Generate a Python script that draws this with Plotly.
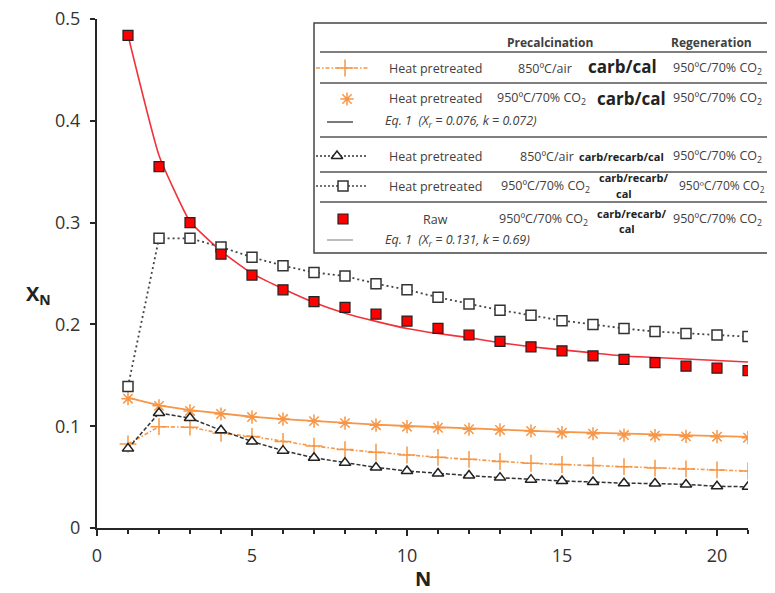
import plotly.graph_objects as go

# ---------------- data ----------------
N = list(range(1, 22))
x_ticks = [0, 5, 10, 15, 20]
y_ticks = [0, 0.1, 0.2, 0.3, 0.4, 0.5]
y_tick_text = ["0", "0.1", "0.2", "0.3", "0.4", "0.5"]

plus_850_air = [0.0825, 0.0995, 0.099, 0.093, 0.090, 0.085, 0.0805, 0.077, 0.0744, 0.0717,
                0.0694, 0.0675, 0.0653, 0.0636, 0.0624, 0.0614, 0.0602, 0.0589, 0.058, 0.057, 0.056]
star_950_co2 = [0.127, 0.120, 0.115, 0.112, 0.109, 0.107, 0.105, 0.103, 0.101, 0.0995,
                0.0985, 0.097, 0.0963, 0.0953, 0.0936, 0.0926, 0.0913, 0.0907, 0.090, 0.0897, 0.0887]
star_fit = [0.128, 0.1205, 0.1158, 0.1122, 0.1093, 0.107, 0.105, 0.1032, 0.1016, 0.1002,
            0.0989, 0.0977, 0.0966, 0.0955, 0.0945, 0.0936, 0.0927, 0.0918, 0.091, 0.0902, 0.0895]
tri_850_air = [0.078, 0.113, 0.108, 0.096, 0.085, 0.076, 0.069, 0.064, 0.0595, 0.056,
               0.0535, 0.0515, 0.0495, 0.0475, 0.0462, 0.0452, 0.044, 0.0437, 0.0428, 0.041, 0.0405]
sq_950_co2 = [0.139, 0.2846, 0.2846, 0.276, 0.266, 0.2577, 0.251, 0.2475, 0.240, 0.234,
              0.2266, 0.220, 0.214, 0.209, 0.2037, 0.200, 0.196, 0.193, 0.191, 0.1896, 0.188]
raw_950_co2 = [0.484, 0.355, 0.300, 0.269, 0.2485, 0.234, 0.2223, 0.2168, 0.210, 0.2033,
               0.196, 0.1896, 0.1834, 0.178, 0.174, 0.169, 0.1657, 0.1624, 0.159, 0.157, 0.1545]
raw_fit = [0.484, 0.366, 0.301, 0.272, 0.250, 0.235, 0.2215, 0.211, 0.203, 0.196,
           0.191, 0.187, 0.182, 0.178, 0.175, 0.172, 0.169, 0.1675, 0.166, 0.1645, 0.163]

ORANGE = "#F79646"
RED = "#FF0000"
FITRED = "#F0333A"
TXT = "#404040"
FONT = "Open Sans"

# screen geometry (page has an 8px body margin)
OFF = 8
W, H = 775, 593
L, R, T, B = 97, 27, 19, 65
PW, PH = W - L - R, H - T - B


def px(xp):
    return (xp - L) / PW


def py(yp):
    return (H - B - yp) / PH


fig = go.Figure()

# ---------------- data traces ----------------
fig.add_trace(go.Scatter(x=N, y=raw_fit, mode="lines",
                         line=dict(color=FITRED, width=1.6, shape="spline", smoothing=0.4),
                         showlegend=False))
fig.add_trace(go.Scatter(x=N, y=star_fit, mode="lines", line=dict(color=ORANGE, width=1.8),
                         showlegend=False))
fig.add_trace(go.Scatter(x=N, y=star_950_co2, mode="markers",
                         marker=dict(symbol="asterisk", size=11, line=dict(color=ORANGE, width=1.5)),
                         showlegend=False))
fig.add_trace(go.Scatter(x=N, y=plus_850_air, mode="lines+markers",
                         line=dict(color=ORANGE, width=1.6, dash="4px,2px,1.5px,2px"),
                         marker=dict(symbol="cross-thin", size=12, line=dict(color=ORANGE, width=1.5)),
                         showlegend=False))
fig.add_trace(go.Scatter(x=N, y=tri_850_air, mode="lines+markers",
                         line=dict(color="#333333", width=1.5, dash="4px,2px"),
                         marker=dict(symbol="triangle-up", size=10, color="white",
                                     line=dict(color="#222222", width=1.5)),
                         showlegend=False))
fig.add_trace(go.Scatter(x=N, y=sq_950_co2, mode="lines+markers",
                         line=dict(color="#444444", width=1.8, dash="2px,3px"),
                         marker=dict(symbol="square", size=10, color="white",
                                     line=dict(color="#333333", width=1.5)),
                         showlegend=False))
fig.add_trace(go.Scatter(x=N, y=raw_950_co2, mode="markers",
                         marker=dict(symbol="square", size=10, color=RED, line=dict(color="#222222", width=1.2)),
                         showlegend=False))


# ---------------- legend table (samples on a helper pixel axis) ----------------
def sample_line(x0, x1, yv, color, dash, width=1.5):
    fig.add_trace(go.Scatter(x=[x0, x1], y=[yv, yv], mode="lines", xaxis="x2", yaxis="y2",
                             line=dict(color=color, width=width, dash=dash), showlegend=False,
                             hoverinfo="skip"))


def sample_marker(xv, yv, marker):
    fig.add_trace(go.Scatter(x=[xv], y=[yv], mode="markers", xaxis="x2", yaxis="y2",
                             marker=marker, showlegend=False, hoverinfo="skip"))


sample_line(316, 368, 68, ORANGE, "4px,2px,1.5px,2px")
sample_marker(345, 68, dict(symbol="cross-thin", size=12, line=dict(color=ORANGE, width=1.5)))
sample_marker(347, 99, dict(symbol="asterisk", size=11, line=dict(color=ORANGE, width=1.5)))
sample_line(327, 353, 122, "#333333", "solid", 1.3)
sample_line(316, 368, 156, "#333333", "2px,2px")
sample_marker(337, 156, dict(symbol="triangle-up", size=10, color="white", line=dict(color="#222222", width=1.5)))
sample_line(316, 366, 186, "#444444", "2px,2px")
sample_marker(343, 186, dict(symbol="square", size=10, color="white", line=dict(color="#333333", width=1.5)))
sample_marker(343, 219, dict(symbol="square", size=10, color=RED, line=dict(color="#222222", width=1.2)))
sample_line(327, 353, 240, "#999999", "solid", 1.3)

shapes = [
    dict(type="rect", xref="paper", yref="paper", x0=px(314), x1=px(773), y0=py(253), y1=py(23),
         line=dict(color="#444444", width=1.5), fillcolor="white", layer="below"),
]
for yl in [52, 83, 137, 172, 202]:
    shapes.append(dict(type="line", xref="paper", yref="paper", x0=px(320), x1=px(773), y0=py(yl), y1=py(yl),
                       line=dict(color="#555555", width=1.5)))

annotations = []


def txt(text, xc, yc, size=12.5, bold=False, italic=False, anchor="center", color=TXT):
    t = text
    if bold:
        t = "<b>" + t + "</b>"
    if italic:
        t = "<i>" + t + "</i>"
    annotations.append(dict(text=t, x=px(xc), y=py(yc), xref="paper", yref="paper", showarrow=False,
                            xanchor=anchor, yanchor="middle", font=dict(family=FONT, size=size, color=color)))


CO2 = "950ºC/70% CO<sub>2</sub>"
BOLDC = "#222222"
txt("Precalcination", 550, 42, 12, bold=True)
txt("Regeneration", 711, 42, 12, bold=True)

txt("Heat pretreated", 435, 68)
txt("850ºC/air", 545, 68)
txt("carb/cal", 622, 67, 17, bold=True, color=BOLDC)
txt(CO2, 717, 68)

txt("Heat pretreated", 435, 99)
txt(CO2, 541, 99)
txt("carb/cal", 631, 98, 17, bold=True, color=BOLDC)
txt(CO2, 717, 99)
txt("Eq. 1  (X<sub>r</sub> = 0.076, k = 0.072)", 383, 122, anchor="left", italic=True)

txt("Heat pretreated", 435, 156)
txt("850ºC/air", 547, 156)
txt("carb/recarb/cal", 621, 156, 11, bold=True, color=BOLDC)
txt(CO2, 717, 156)

txt("Heat pretreated", 435, 186)
txt(CO2, 545, 186)
txt("carb/recarb/", 634, 178, 11, bold=True, color=BOLDC)
txt("cal", 624, 193, 11, bold=True, color=BOLDC)
txt(CO2, 722, 186, 12)

txt("Raw", 435, 219)
txt(CO2, 543, 219)
txt("carb/recarb/", 632, 213, 11, bold=True, color=BOLDC)
txt("cal", 627, 229, 11, bold=True, color=BOLDC)
txt(CO2, 717, 219)
txt("Eq. 1  (X<sub>r</sub> = 0.131, k = 0.69)", 383, 240, anchor="left", italic=True)

# axis titles
annotations.append(dict(text="<b>X<sub>N</sub></b>", x=px(38), y=py(294), xref="paper", yref="paper",
                        showarrow=False, xanchor="center", yanchor="middle",
                        font=dict(family=FONT, size=20, color="#222222")))
annotations.append(dict(text="<b>N</b>", x=px(423), y=py(579), xref="paper", yref="paper",
                        showarrow=False, xanchor="center", yanchor="middle",
                        font=dict(family=FONT, size=20, color="#222222")))

fig.update_layout(
    width=W - OFF, height=H - OFF,
    margin=dict(l=L - OFF, r=R, t=T - OFF, b=B, autoexpand=False),
    paper_bgcolor="white", plot_bgcolor="white",
    font=dict(family=FONT, color=TXT),
    showlegend=False,
    shapes=shapes,
    annotations=annotations,
    xaxis=dict(range=[0, 21], tickvals=x_ticks, ticktext=[str(v) for v in x_ticks],
               showgrid=False, zeroline=False, showline=True, linecolor="#262626", linewidth=2,
               ticks="outside", ticklen=6, tickwidth=1.5, tickcolor="#262626",
               minor=dict(dtick=1, tick0=0, ticks="outside", ticklen=4, tickwidth=1.5, tickcolor="#262626"),
               tickfont=dict(family=FONT, size=18, color="#333333"), ticklabelstandoff=4,
               ticklabeloverflow="allow", automargin=False),
    yaxis=dict(range=[0, 0.5], tickvals=y_ticks, ticktext=y_tick_text,
               showgrid=False, zeroline=False, showline=True, linecolor="#262626", linewidth=2,
               ticks="outside", ticklen=5, tickwidth=1.5, tickcolor="#262626",
               tickfont=dict(family=FONT, size=18, color="#333333"), ticklabelstandoff=6,
               ticklabeloverflow="allow", automargin=False),
    xaxis2=dict(range=[L, W - R], overlaying="x", visible=False, fixedrange=True),
    yaxis2=dict(range=[H - B, T], overlaying="y", visible=False, fixedrange=True),
)

fig.write_html("out.html")
